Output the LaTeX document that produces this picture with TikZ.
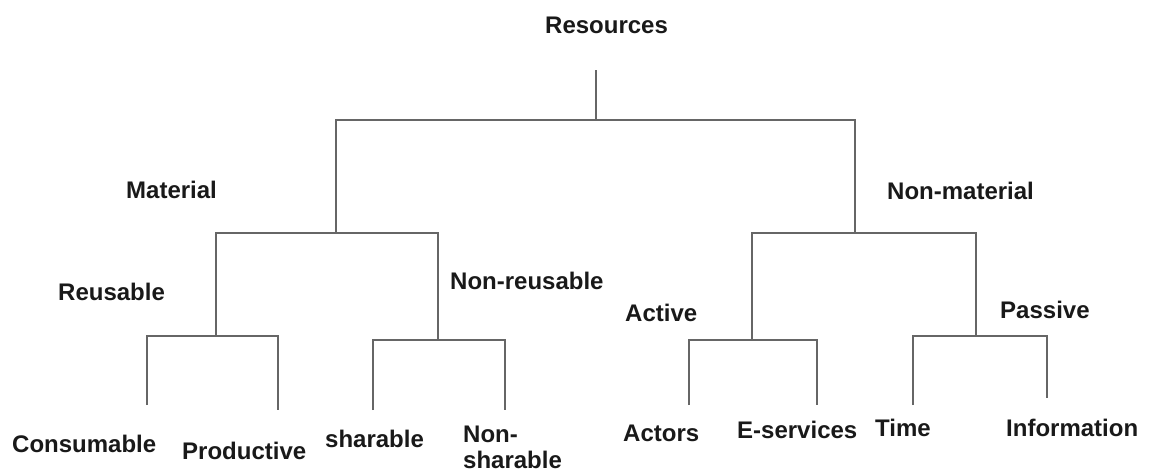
\documentclass[tikz,border=0pt]{standalone}
\usepackage{fontspec}
\setmainfont{Liberation Sans}
\begin{document}
\begin{tikzpicture}[x=1pt,y=-1pt,
  lbl/.style={font=\bfseries\fontsize{24}{28}\selectfont, inner sep=0pt, anchor=base west, text=black!90},
  branch/.style={draw=black!60, line width=2.4pt}]
\useasboundingbox (0,0) rectangle (1150,474);

% labels
\node[lbl] (res)   at (545,33)  {Resources};
\node[lbl] (mat)   at (126,198) {Material};
\node[lbl] (nmat)  at (887,199) {Non-material};
\node[lbl] (reu)   at (58,300)  {Reusable};
\node[lbl] (nreu)  at (450,289) {Non-reusable};
\node[lbl] (act)   at (625,321) {Active};
\node[lbl] (pas)   at (1000,318) {Passive};
\node[lbl] (cons)  at (12,452)  {Consumable};
\node[lbl] (prod)  at (182,459) {Productive};
\node[lbl] (shar)  at (325,447) {sharable};
\node[lbl] (nsh1)  at (463,442) {Non-};
\node[lbl] (nsh2)  at (463,468) {sharable};
\node[lbl] (actr)  at (623,441) {Actors};
\node[lbl] (eserv) at (737,438) {E-services};
\node[lbl] (time)  at (875,436) {Time};
\node[lbl] (info)  at (1006,436) {Information};

% junction points of the tree
\coordinate (root)  at (596,70);
\coordinate (rootj) at (596,120);
\coordinate (matj)  at (336,233);
\coordinate (nmatj) at (855,233);
\coordinate (reuj)  at (216,336);
\coordinate (nreuj) at (438,340);
\coordinate (actj)  at (752,340);
\coordinate (pasj)  at (976,336);
\coordinate (consE) at (147,405);
\coordinate (prodE) at (278,410);
\coordinate (sharE) at (373,410);
\coordinate (nshE)  at (505,410);
\coordinate (actrE) at (689,405);
\coordinate (eservE) at (817,405);
\coordinate (timeE) at (913,405);
\coordinate (infoE) at (1047,398);

% branches
\draw[branch] (root) -- (rootj);
\draw[branch] (matj) |- (rootj) -| (nmatj);
\draw[branch] (reuj) |- (matj) -| (nreuj);
\draw[branch] (actj) |- (nmatj) -| (pasj);
\draw[branch] (consE) |- (reuj) -| (prodE);
\draw[branch] (sharE) |- (nreuj) -| (nshE);
\draw[branch] (actrE) |- (actj) -| (eservE);
\draw[branch] (timeE) |- (pasj) -| (infoE);
\end{tikzpicture}
\end{document}
